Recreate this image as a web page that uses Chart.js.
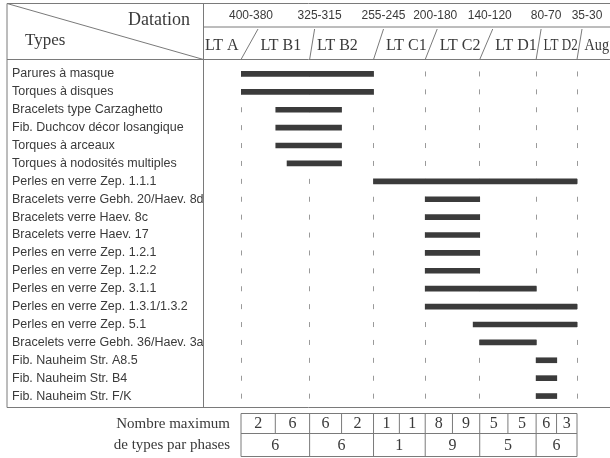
<!DOCTYPE html>
<html>
<head>
<meta charset="utf-8">
<script src="https://cdn.jsdelivr.net/npm/chart.js@4.4.1/dist/chart.umd.min.js"></script>
<style>
  html, body { margin: 0; padding: 0; background: #fff; }
  canvas { display: block; }
</style>
</head>
<body>
<canvas id="chart" width="610" height="458"></canvas>
<script>
// types (rows)
const types = [
  'Parures à masque',
  'Torques à disques',
  'Bracelets type Carzaghetto',
  'Fib. Duchcov décor losangique',
  'Torques à arceaux',
  'Torques à nodosités multiples',
  'Perles en verre Zep. 1.1.1',
  'Bracelets verre Gebh. 20/Haev. 8d',
  'Bracelets verre Haev. 8c',
  'Bracelets verre Haev. 17',
  'Perles en verre Zep. 1.2.1',
  'Perles en verre Zep. 1.2.2',
  'Perles en verre Zep. 3.1.1',
  'Perles en verre Zep. 1.3.1/1.3.2',
  'Perles en verre Zep. 5.1',
  'Bracelets verre Gebh. 36/Haev. 3a',
  'Fib. Nauheim Str. A8.5',
  'Fib. Nauheim Str. B4',
  'Fib. Nauheim Str. F/K'
];

// datation (years BC) of the phase limits, and their labels
const bounds = [390, 317, 249, 194, 136, 76, 32.5];
const dateLabels = ['400-380', '325-315', '255-245', '200-180', '140-120', '80-70', '35-30'];
const phases = ['LT A', 'LT B1', 'LT B2', 'LT C1', 'LT C2', 'LT D1', 'LT D2', 'Aug'];

// start / end of each type (years BC)
const starts = [390, 390, 353, 353, 353, 341, 249, 194, 194, 194, 194, 194, 194, 194, 143, 136, 76, 76, 76];
const ends   = [249, 249, 283, 283, 283, 283, 32.5, 136, 136, 136, 136, 136, 76, 32.5, 32.5, 76, 54, 54, 54];

// nombre maximum de types
const maxPerHalf = [2, 6, 6, 2, 1, 1, 8, 9, 5, 5, 6, 3];
const maxPerPhase = [6, 6, 1, 9, 5, 6];

const LINE = '#7a7a7a';
const TXT = '#3a3a3a';
const SERIF = '"Liberation Serif", "DejaVu Serif", serif';
const SANS = '"Liberation Sans", Arial, sans-serif';

function line(ctx, x1, y1, x2, y2) {
  ctx.beginPath();
  ctx.moveTo(x1, y1);
  ctx.lineTo(x2, y2);
  ctx.stroke();
}

const frame = {
  id: 'frame',
  beforeDraw(chart) {
    const ctx = chart.ctx;
    ctx.save();
    ctx.fillStyle = '#fff';
    ctx.fillRect(0, 0, chart.width, chart.height);
    ctx.restore();
  },
  afterDraw(chart) {
    const { ctx, scales: { x } } = chart;
    const bx = bounds.map(v => x.getPixelForValue(v));
    const R = chart.width;
    const top = 3.5, mid = 27, head = 59.5, bot = 407.5, sep = 203.5, left = 7;

    ctx.save();
    ctx.strokeStyle = LINE;
    ctx.lineWidth = 1;
    // box
    line(ctx, left, top, R, top);
    line(ctx, left, top, left, bot);
    line(ctx, left, bot, R, bot);
    line(ctx, sep, top, sep, bot);
    line(ctx, sep, mid, R, mid);
    line(ctx, left, head, R, head);
    line(ctx, left, top, sep, head);

    // slanted phase separators
    const slant = [17, 5, 10, 12, 13, 5, 5];
    const tops = bx.map((p, i) => p + slant[i]);
    bx.forEach((p, i) => line(ctx, p, head, tops[i], mid + 2));

    // header texts
    ctx.fillStyle = TXT;
    ctx.textBaseline = 'alphabetic';
    ctx.font = '18px ' + SERIF;
    ctx.textAlign = 'right';
    ctx.fillText('Datation', 190, 24.5);
    ctx.font = '17px ' + SERIF;
    ctx.textAlign = 'left';
    ctx.fillText('Types', 25, 45);

    ctx.font = '12px ' + SANS;
    ctx.textAlign = 'center';
    ctx.textBaseline = 'middle';
    dateLabels.forEach((t, i) => {
      const w = ctx.measureText(t).width;
      const cx = Math.min(bx[i] + 10, R - 3 - w / 2);
      ctx.fillText(t, cx, 15.5);
    });

    ctx.font = '16px ' + SERIF;
    ctx.textAlign = 'left';
    ctx.textBaseline = 'alphabetic';
    phases.forEach((t, i) => {
      const x0 = i === 0 ? sep + 1.5 : tops[i - 1] + 2.5;
      const x1 = i === phases.length - 1 ? R - 1 : bx[i] + slant[i] * 0.35 - 1;
      ctx.fillText(t, x0, 50, x1 - x0);
    });

    // bottom table
    const tTop = 413.5, tMid = 433.5, tBot = 456.5;
    const halves = [];
    for (let i = 0; i < bx.length - 1; i++) halves.push(bx[i], (bx[i] + bx[i + 1]) / 2);
    halves.push(bx[bx.length - 1]);
    line(ctx, bx[0], tTop, bx[6], tTop);
    line(ctx, bx[0], tMid, bx[6], tMid);
    line(ctx, bx[0], tBot, bx[6], tBot);
    halves.forEach((p, i) => line(ctx, p, tTop, p, i % 2 === 0 ? tBot : tMid));

    ctx.font = '16px ' + SERIF;
    ctx.textAlign = 'center';
    ctx.textBaseline = 'middle';
    maxPerHalf.forEach((n, i) => ctx.fillText(String(n), (halves[i] + halves[i + 1]) / 2, tTop + 10.5));
    maxPerPhase.forEach((n, i) => ctx.fillText(String(n), (bx[i] + bx[i + 1]) / 2, tMid + 12));

    ctx.font = '15px ' + SERIF;
    ctx.textAlign = 'right';
    ctx.fillText('Nombre maximum', 230, tTop + 10.5);
    ctx.fillText('de types par phases', 230, tMid + 12);
    ctx.restore();
  }
};

new Chart(document.getElementById('chart'), {
  type: 'bar',
  data: {
    labels: types,
    datasets: [{
      data: starts.map((s, i) => [s, ends[i]]),
      backgroundColor: '#3b3b3b',
      barThickness: 5,
      borderSkipped: false
    }]
  },
  options: {
    indexAxis: 'y',
    responsive: false,
    devicePixelRatio: 1,
    animation: false,
    layout: { padding: { left: 12, right: 33, top: 65, bottom: 53 } },
    plugins: { legend: { display: false }, tooltip: { enabled: false } },
    scales: {
      x: {
        type: 'linear',
        position: 'top',
        reverse: true,
        min: 32.5,
        max: 390,
        afterBuildTicks: s => { s.ticks = bounds.map(v => ({ value: v })); },
        afterFit: s => { s.height = 0; },
        ticks: { display: false },
        border: { display: false, dash: [5, 12.9], dashOffset: 11.45 },
        grid: {
          color: '#9a9a9a',
          lineWidth: 1,
          drawTicks: false
        }
      },
      y: {
        afterFit: s => { s.width = 229; },
        border: { display: false },
        grid: { display: false },
        ticks: {
          autoSkip: false,
          crossAlign: 'far',
          padding: 0,
          color: TXT,
          font: { family: SANS, size: 12.5 }
        }
      }
    }
  },
  plugins: [frame]
});
</script>
</body>
</html>
